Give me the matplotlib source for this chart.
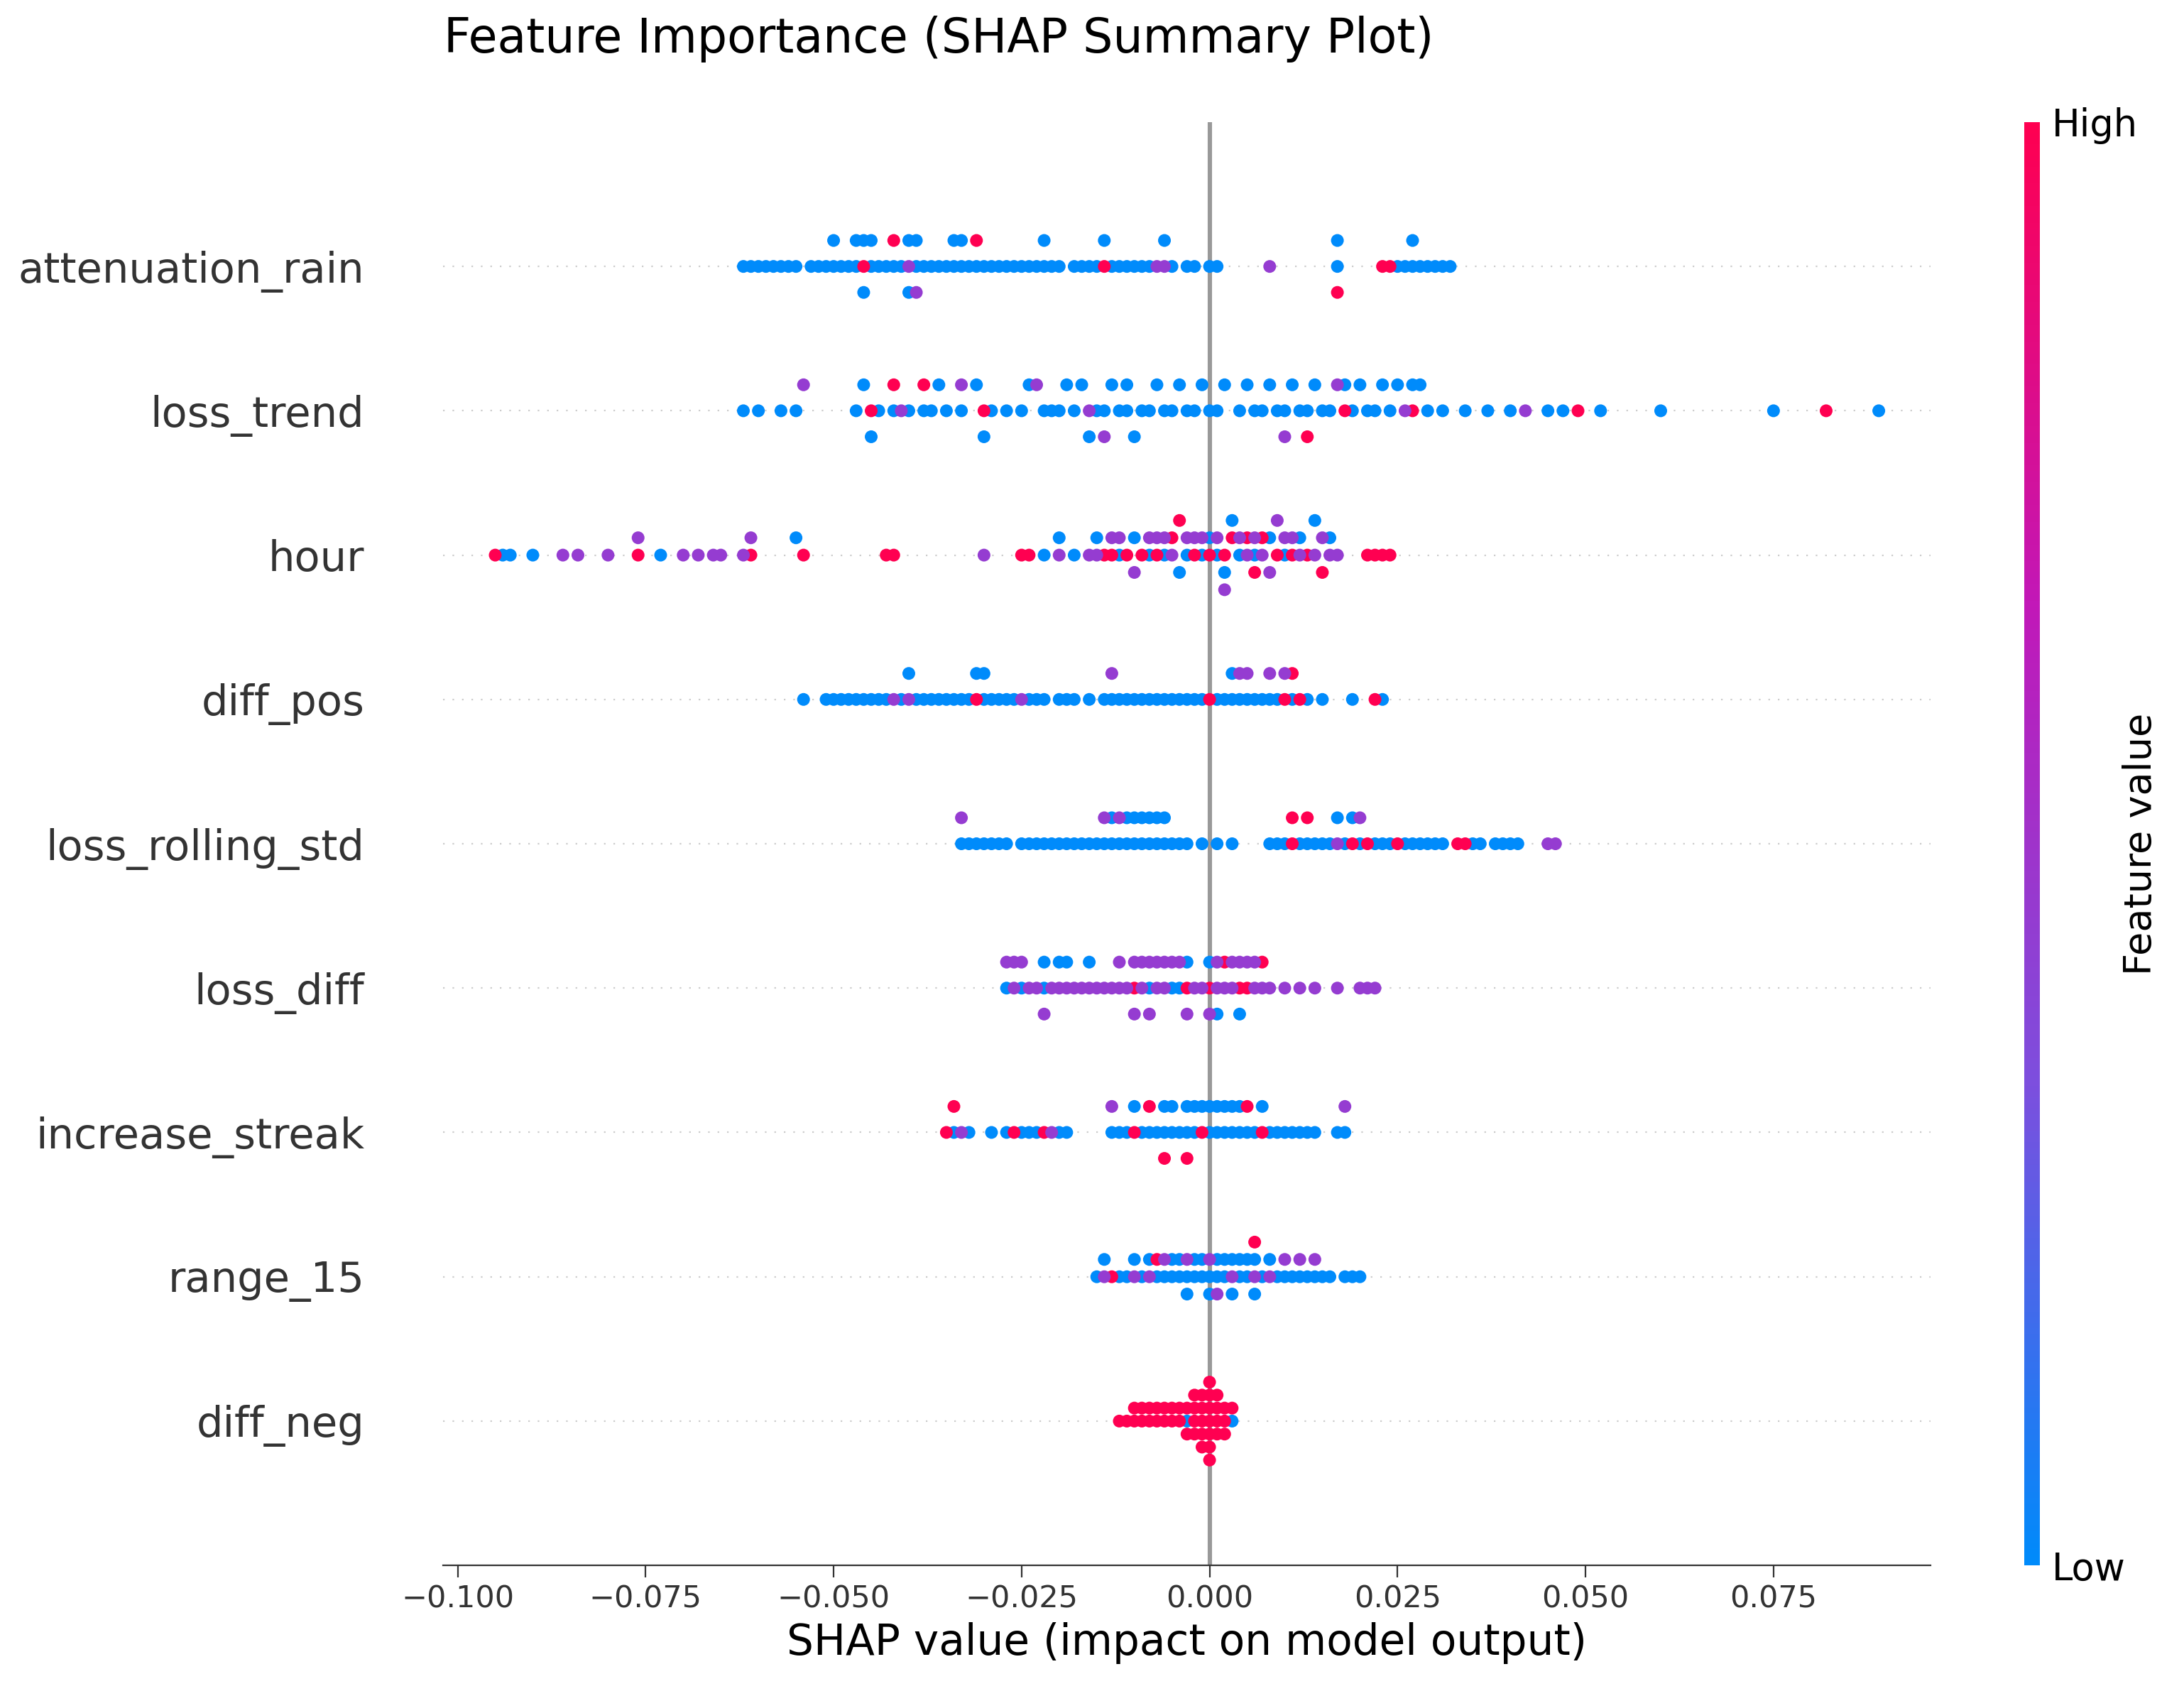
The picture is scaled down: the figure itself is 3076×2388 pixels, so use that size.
import numpy as np
import matplotlib
matplotlib.use("Agg")
import matplotlib.pyplot as plt
from matplotlib.colors import LinearSegmentedColormap

features = ["attenuation_rain", "loss_trend", "hour", "diff_pos", "loss_rolling_std",
            "loss_diff", "increase_streak", "range_15", "diff_neg"]

# SHAP values (x1000) grouped by feature colour: blue (low), red (high), purple (mid)
attenuation_rain_blue = [-62,-61,-60,-59,-58,-57,-56,-55,-53,-52,-51,-50,-50,-49,-48,-47,-47,-46,-46,-45,-45,-44,-43,-42,-41,-40,-40,-39,-39,-38,-37,-36,-35,-34,-34,-33,-33,-32,-31,-30,-29,-28,-27,-26,-25,-24,-23,-22,-22,-21,-20,-18,-17,-16,-15,-14,-13,-12,-11,-10,-9,-8,-6,-5,-3,-2,0,1,17,17,25,26,27,27,28,29,30,31,32]
attenuation_rain_red = [-46,-42,-31,-14,17,23,24]
attenuation_rain_purple = [-40,-7,-6,8,-39]

loss_trend_blue = [-62,-60,-57,-55,-47,-46,-45,-44,-42,-40,-38,-37,-36,-35,-33,-31,-30,-29,-27,-25,-24,-22,-21,-20,-19,-18,-17,-16,-15,-14,-13,-12,-11,-11,-10,-9,-8,-7,-6,-5,-4,-3,-2,-1,0,1,2,4,5,6,7,8,9,10,11,12,13,14,15,16,18,19,20,21,22,23,24,25,27,28,29,31,34,37,40,45,47,52,60,75,89]
loss_trend_red = [-45,-42,-38,-30,13,18,27,49,82]
loss_trend_purple = [-54,-41,-33,-23,-16,-14,10,17,26,42]

hour_blue = [-94,-93,-90,-73,-55,-22,-20,-18,-15,-12,-10,-8,-6,-4,-3,-1,0,1,2,3,4,6,8,10,12,14,16]
hour_red = [-95,-76,-61,-54,-43,-42,-25,-24,-14,-13,-11,-9,-7,-5,-4,-2,0,2,3,5,6,7,9,11,13,15,21,22,23,24]
hour_purple = [-86,-84,-80,-76,-70,-68,-66,-65,-62,-61,-30,-20,-16,-15,-13,-12,-10,-8,-7,-6,-5,-3,-2,-1,1,2,4,5,6,7,8,9,10,11,12,14,15,16,17]

diff_pos_blue = [-54,-51,-50,-49,-48,-47,-46,-45,-44,-43,-41,-40,-39,-38,-37,-36,-35,-34,-33,-32,-31,-30,-30,-29,-28,-27,-26,-24,-23,-22,-20,-19,-18,-16,-14,-13,-12,-11,-10,-9,-8,-7,-6,-5,-4,-3,-2,-1,1,2,3,3,4,5,6,7,8,9,11,13,15,19,23]
diff_pos_red = [-31,0,10,11,12,22]
diff_pos_purple = [-42,-40,-25,-13,4,5,8,10]

loss_rolling_std_blue = [-33,-32,-31,-30,-29,-28,-27,-25,-24,-23,-22,-21,-20,-19,-18,-17,-16,-15,-14,-13,-13,-12,-11,-11,-10,-10,-9,-9,-8,-8,-7,-7,-6,-6,-5,-4,-3,-1,1,3,8,9,10,12,13,14,15,16,17,18,19,20,22,23,24,26,27,28,29,30,31,35,36,38,39,40,41]
loss_rolling_std_red = [11,11,13,19,21,25,33,34]
loss_rolling_std_purple = [-33,-14,-12,17,20,45,46]

loss_diff_blue = [-27,-25,-22,-22,-20,-19,-16,-8,-5,-4,-3,0,1,4]
loss_diff_red = [-10,-3,0,2,4,5,7]
loss_diff_purple = [-27,-26,-26,-25,-24,-23,-22,-21,-20,-19,-18,-17,-16,-15,-14,-13,-12,-12,-11,-10,-10,-9,-9,-8,-8,-7,-7,-6,-6,-5,-4,-3,-2,-1,0,1,1,2,3,3,4,5,6,6,7,8,10,12,14,17,20,21,22]

increase_streak_blue = [-34,-32,-29,-27,-25,-24,-23,-20,-19,-13,-12,-11,-10,-9,-8,-7,-6,-6,-5,-5,-4,-3,-3,-2,-2,-1,0,0,1,1,2,2,3,3,4,4,5,6,7,8,9,10,11,12,13,14,17,18]
increase_streak_red = [-35,-34,-26,-22,-10,-8,-6,-3,-1,5,7]
increase_streak_purple = [-33,-21,-13,18]

range_15_blue = [-15,-14,-12,-11,-10,-9,-8,-7,-6,-5,-5,-4,-4,-3,-3,-2,-2,-1,-1,0,0,1,1,2,2,3,3,4,4,5,5,6,6,7,8,9,10,11,12,13,14,15,16,18,19,20]
range_15_red = [-13,-7,6]
range_15_purple = [-14,-10,-8,-6,-3,0,1,3,6,8,10,12,14]

diff_neg_blue = [3,-3]
diff_neg_red = [-12,-11,-10,-10,-9,-9,-8,-8,-7,-7,-6,-6,-5,-5,-4,-4,-3,-3,-2,-2,-2,-2,-1,-1,-1,-1,-1,0,0,0,0,0,0,0,1,1,1,1,2,2,2,3]
diff_neg_purple = []

data = {
    "attenuation_rain": (attenuation_rain_blue, attenuation_rain_red, attenuation_rain_purple),
    "loss_trend": (loss_trend_blue, loss_trend_red, loss_trend_purple),
    "hour": (hour_blue, hour_red, hour_purple),
    "diff_pos": (diff_pos_blue, diff_pos_red, diff_pos_purple),
    "loss_rolling_std": (loss_rolling_std_blue, loss_rolling_std_red, loss_rolling_std_purple),
    "loss_diff": (loss_diff_blue, loss_diff_red, loss_diff_purple),
    "increase_streak": (increase_streak_blue, increase_streak_red, increase_streak_purple),
    "range_15": (range_15_blue, range_15_red, range_15_purple),
    "diff_neg": (diff_neg_blue, diff_neg_red, diff_neg_purple),
}

cmap = LinearSegmentedColormap.from_list("shap", ["#008bfb", "#7d4fde", "#c218b8", "#ff0051"])

fig = plt.figure(figsize=(15.38, 11.94), dpi=200)
ax = fig.add_axes([0.203, 0.077, 0.681, 0.851])
n = len(features)
row_height = 0.4
for i, f in enumerate(features):
    pos = n - 1 - i
    b, r, p = data[f]
    shaps = np.array(b + r + p, dtype=float) / 1000.0
    vals = np.array([0.0]*len(b) + [1.0]*len(r) + [0.45]*len(p))
    ax.axhline(pos, color="#cccccc", lw=0.8, dashes=(1, 5), zorder=-1)
    nbins = 100
    quant = np.round(nbins * (shaps - shaps.min()) / (shaps.max() - shaps.min() + 1e-8))
    inds = np.lexsort((np.arange(len(shaps)) % 7, quant))
    ys = np.zeros(len(shaps))
    layer = 0
    last = -1
    for ind in inds:
        if quant[ind] != last:
            layer = 0
        ys[ind] = np.ceil(layer / 2) * ((layer % 2) * 2 - 1)
        layer += 1
        last = quant[ind]
    ys *= 0.9 * (row_height / np.max(ys + 1))
    ax.scatter(shaps, pos + ys, c=vals, cmap=cmap, vmin=0, vmax=1, s=42,
               linewidths=0, zorder=3)

ax.axvline(0, color="#999999", lw=2.2, zorder=1)
ax.set_xlim(-0.1019, 0.0959)
ax.set_ylim(-1, n)
ax.set_yticks(range(n))
ax.set_yticklabels(features[::-1], fontsize=21.3, color="#333333")
ax.tick_params(axis="y", length=0, pad=40)
ax.tick_params(axis="x", labelsize=15.5, colors="#333333", length=6)
for s in ["left", "right", "top"]:
    ax.spines[s].set_visible(False)
ax.spines["bottom"].set_color("#333333")
ax.set_xticks([-0.1, -0.075, -0.05, -0.025, 0.0, 0.025, 0.05, 0.075])
ax.set_xlabel("SHAP value (impact on model output)", fontsize=21.5, color="#000000", labelpad=4)

fig.text(0.43, 0.977, "Feature Importance (SHAP Summary Plot)", fontsize=24, ha="center", va="center")

cax = fig.add_axes([0.927, 0.077, 0.007, 0.851])
grad = np.linspace(0, 1, 256).reshape(-1, 1)
cax.imshow(grad, aspect="auto", cmap=cmap, origin="lower", extent=[0, 1, 0, 1])
cax.set_xticks([])
cax.set_yticks([0, 1])
cax.set_yticklabels(["Low", "High"], fontsize=19)
cax.yaxis.tick_right()
cax.tick_params(axis="y", length=0, pad=6)
for s in cax.spines.values():
    s.set_visible(False)
cax.set_ylabel("Feature value", fontsize=19.5, labelpad=-8)
cax.yaxis.set_label_position("right")

fig.savefig("out.png", dpi=200)
